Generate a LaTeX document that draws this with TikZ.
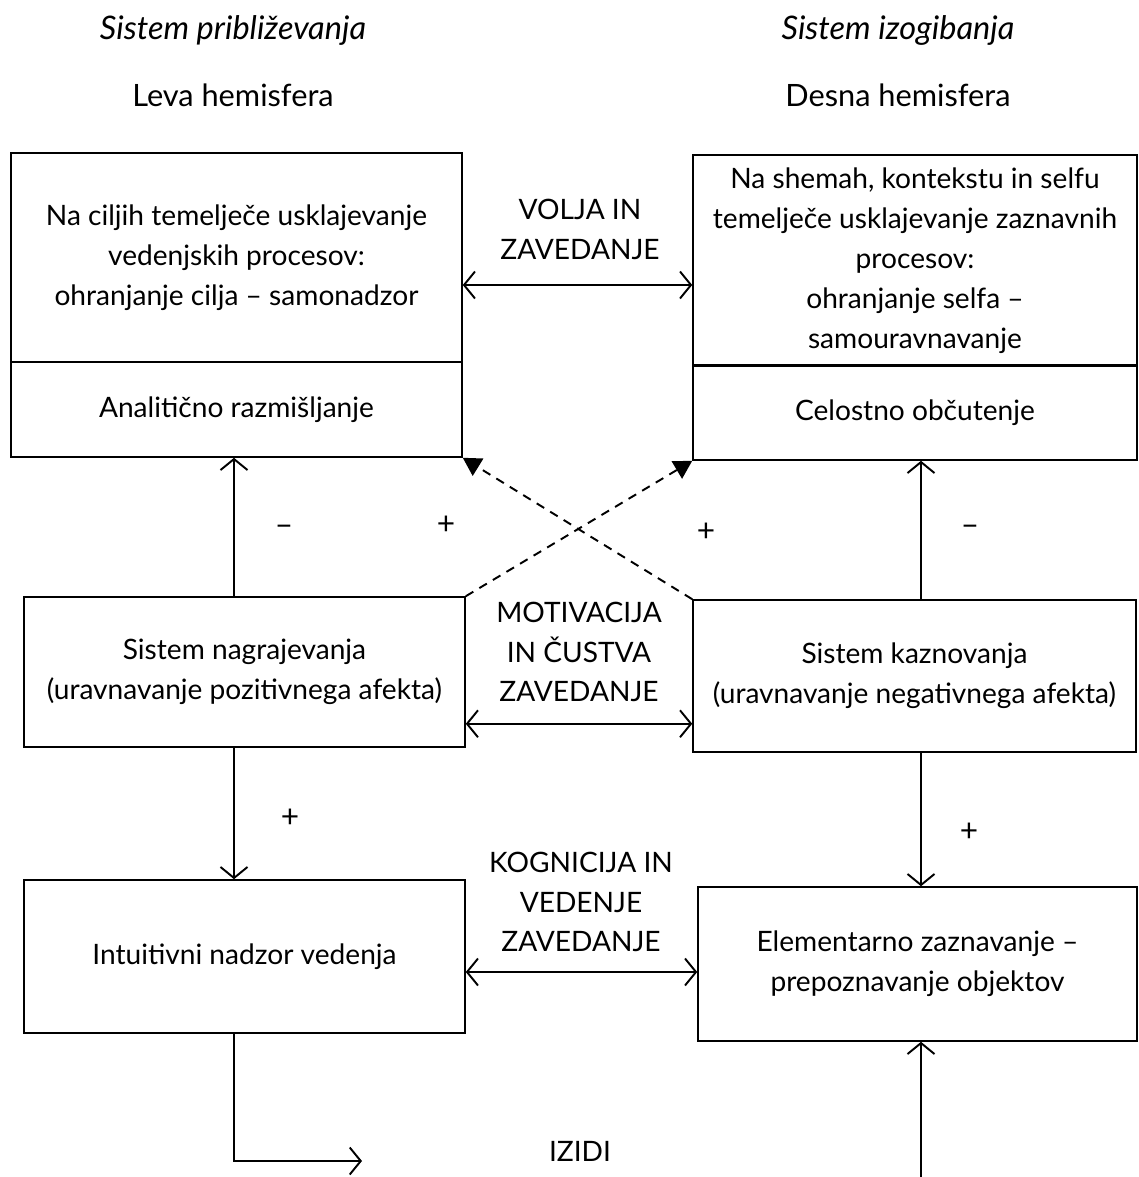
\documentclass[tikz,border=0pt]{standalone}
\usepackage{fontspec}
\setmainfont{Lato}
\usetikzlibrary{arrows.meta}

\begin{document}
\begin{tikzpicture}[x=0.02cm,y=-0.02cm,
    txt/.style={font=\fontsize{16}{22.7}\selectfont, align=center},
    box/.style={draw, line width=0.9pt, inner sep=0pt, txt},
    arr/.style={line width=1.1pt, -{Straight Barb[length=2.2mm,width=5.4mm]}},
    darr/.style={line width=1.1pt, {Straight Barb[length=2.2mm,width=5.4mm]}-{Straight Barb[length=2.2mm,width=5.4mm]}},
    dasharr/.style={line width=1.1pt, dash pattern=on 5pt off 4pt, -{Triangle[length=3.6mm,width=4mm]}},
    sign/.style={font=\fontsize{18}{18}\selectfont\mdseries}]
    % \draw[help lines] (0,0) grid (1139,1177);
    \useasboundingbox (0,0) rectangle (1139,1177);

    % headings
    \node[txt, font=\fontsize{18.5}{20}\selectfont\itshape] (lhead) at (233,30) {Sistem približevanja};
    \node[txt, font=\fontsize{18.5}{20}\selectfont\itshape] (rhead) at (898,30) {Sistem izogibanja};
    \node[txt, font=\fontsize{17.5}{20}\selectfont] (lhem) at (233,95) {Leva hemisfera};
    \node[txt, font=\fontsize{17.5}{20}\selectfont] (rhem) at (898,95) {Desna hemisfera};

    % boxes
    \node[box, minimum width=9.02cm, minimum height=4.18cm] (tl) at (236.5,257.5)
        {Na ciljih temelječe usklajevanje\\ vedenjskih procesov:\\ ohranjanje cilja -- samonadzor};
    \node[box, minimum width=9.02cm, minimum height=1.9cm] (tlb) at (236.5,409.5)
        {Analitično razmišljanje};
    \node[box, minimum width=8.88cm, minimum height=4.22cm] (tr) at (915,260.5)
        {Na shemah, kontekstu in selfu\\ temelječe usklajevanje zaznavnih\\ procesov:\\ ohranjanje selfa --\\ samouravnavanje};
    \node[box, minimum width=8.88cm, minimum height=1.88cm] (trb) at (915,413)
        {Celostno občutenje};
    \draw[line width=1.8pt] (trb.north west) -- (trb.north east);
    \node[box, minimum width=8.82cm, minimum height=3cm] (ml) at (244.5,672)
        {Sistem nagrajevanja\\ (uravnavanje pozitivnega afekta)};
    \node[box, minimum width=8.86cm, minimum height=3.04cm] (mr) at (914.5,676)
        {Sistem kaznovanja\\ (uravnavanje negativnega afekta)};
    \node[box, minimum width=8.82cm, minimum height=3.06cm] (bl) at (244.5,956.5)
        {Intuitivni nadzor vedenja};
    \node[box, minimum width=8.78cm, minimum height=3.08cm] (br) at (917.5,964)
        {Elementarno zaznavanje --\\ prepoznavanje objektov};

    % middle labels
    \node[txt] (volja) at (580,229) {VOLJA IN\\ ZAVEDANJE};
    \node[txt] (motiv) at (579,652) {MOTIVACIJA\\ IN ČUSTVA\\ ZAVEDANJE};
    \node[txt] (kogn) at (581,902) {KOGNICIJA IN\\ VEDENJE\\ ZAVEDANJE};
    \node[txt] (izidi) at (580,1151) {IZIDI};

    \coordinate (lx) at (234,0);
    \coordinate (rx) at (921,0);
    \coordinate (out) at (362,1161);
    \coordinate (inp) at (921,1177);

    % connectors
    \draw[darr] ([yshift=-0.55cm]tl.east) -- ([yshift=-0.55cm]tl.east -| tr.west);
    \draw[darr] ([yshift=0.48cm]ml.south east) -- ([yshift=0.48cm]ml.south east -| mr.west);
    \draw[darr] ([yshift=-0.31cm]bl.east) -- ([yshift=-0.31cm]bl.east -| br.west);

    \draw[arr] (ml.north -| lx) -- (tlb.south -| lx);
    \draw[arr] (mr.north -| rx) -- (trb.south -| rx);
    \draw[arr] (ml.south -| lx) -- (bl.north -| lx);
    \draw[arr] (mr.south -| rx) -- (br.north -| rx);
    \draw[arr] (bl.south -| lx) |- (out);
    \draw[arr] (inp) -- (br.south -| inp);

    \draw[dasharr] (ml.north east) -- (trb.south west);
    \draw[dasharr] (mr.north west) -- (tlb.south east);

    % signs
    \node[sign] (s1) at (284,530) {--};
    \node[sign] (s2) at (446,525) {+};
    \node[sign] (s3) at (706,532) {+};
    \node[sign] (s4) at (970,530) {--};
    \node[sign] (s5) at (290,818) {+};
    \node[sign] (s6) at (969,832) {+};
\end{tikzpicture}
\end{document}
